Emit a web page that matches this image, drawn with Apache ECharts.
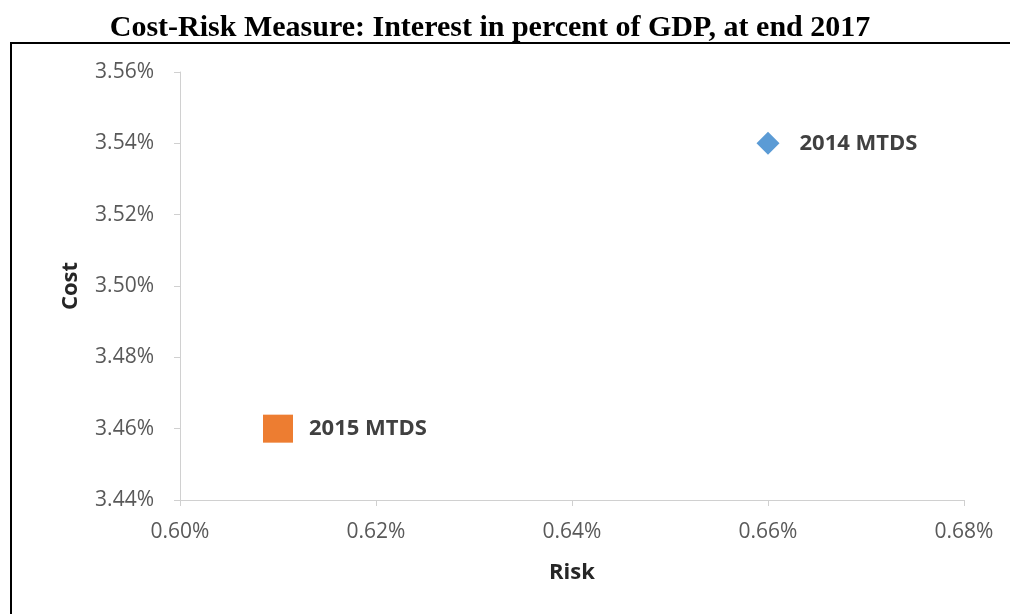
<!DOCTYPE html>
<html><head><meta charset="utf-8">
<script src="https://cdn.jsdelivr.net/npm/echarts@6/dist/echarts.min.js"></script>
<style>html,body{margin:0;padding:0;background:#fff}#c{width:1010px;height:614px}</style>
</head><body><div id="c"></div>
<script>
const titleText = 'Cost-Risk Measure: Interest in percent of GDP, at end 2017';
const seriesNames = ['2014 MTDS', '2015 MTDS'];
const riskValues = [0.66, 0.61];
const costValues = [3.54, 3.46];
const seriesColors = ['#5b9bd5', '#ed7d31'];
const seriesSymbols = ['diamond', 'rect'];
const xTicks = [0.60, 0.62, 0.64, 0.66, 0.68];
const yTicks = [3.44, 3.46, 3.48, 3.50, 3.52, 3.54, 3.56];

const chart = echarts.init(document.getElementById('c'));
const labelFont = 'Open Sans';
chart.setOption({
  animation: false,
  title: {
    text: titleText, left: 485, top: 8, textAlign: 'center',
    textStyle: {fontFamily: 'Liberation Serif', fontWeight: 'bold', fontSize: 30, color: '#000'}
  },
  graphic: [{
    type: 'rect', shape: {x: 11, y: 43, width: 1020, height: 600},
    style: {fill: 'none', stroke: '#000', lineWidth: 2}
  }],
  grid: {left: 180, right: 46, top: 72, bottom: 114},
  xAxis: {
    type: 'value', min: xTicks[0], max: xTicks[xTicks.length - 1], interval: 0.02,
    name: 'Risk', nameLocation: 'middle', nameGap: 62,
    nameTextStyle: {fontFamily: labelFont, fontWeight: 'bold', fontSize: 22, color: '#262626'},
    axisLine: {lineStyle: {color: '#d0d0d0', width: 1}},
    axisTick: {show: true, length: 6, lineStyle: {color: '#d0d0d0'}},
    splitLine: {show: false},
    axisLabel: {formatter: v => v.toFixed(2) + '%', fontFamily: labelFont, fontSize: 21, color: '#595959', margin: 22}
  },
  yAxis: {
    type: 'value', min: yTicks[0], max: yTicks[yTicks.length - 1], interval: 0.02,
    name: 'Cost', nameLocation: 'middle', nameGap: 98, nameRotate: 90,
    nameTextStyle: {fontFamily: labelFont, fontWeight: 'bold', fontSize: 22, color: '#262626'},
    axisLine: {show: true, lineStyle: {color: '#d0d0d0', width: 1}},
    axisTick: {show: true, length: 6, lineStyle: {color: '#d0d0d0'}},
    splitLine: {show: false},
    axisLabel: {formatter: v => v.toFixed(2) + '%', fontFamily: labelFont, fontSize: 21, color: '#595959', margin: 26}
  },
  series: seriesNames.map((n, i) => ({
    name: n, type: 'scatter',
    data: [[riskValues[i], costValues[i]]],
    symbol: seriesSymbols[i],
    symbolSize: i === 0 ? [23, 23] : [30, 28],
    itemStyle: {color: seriesColors[i], opacity: 1},
    label: {
      show: true, position: 'right', distance: i === 0 ? 20 : 16,
      formatter: n, fontFamily: labelFont, fontWeight: 'bold', fontSize: 22, color: '#404040'
    }
  }))
});
</script></body></html>
